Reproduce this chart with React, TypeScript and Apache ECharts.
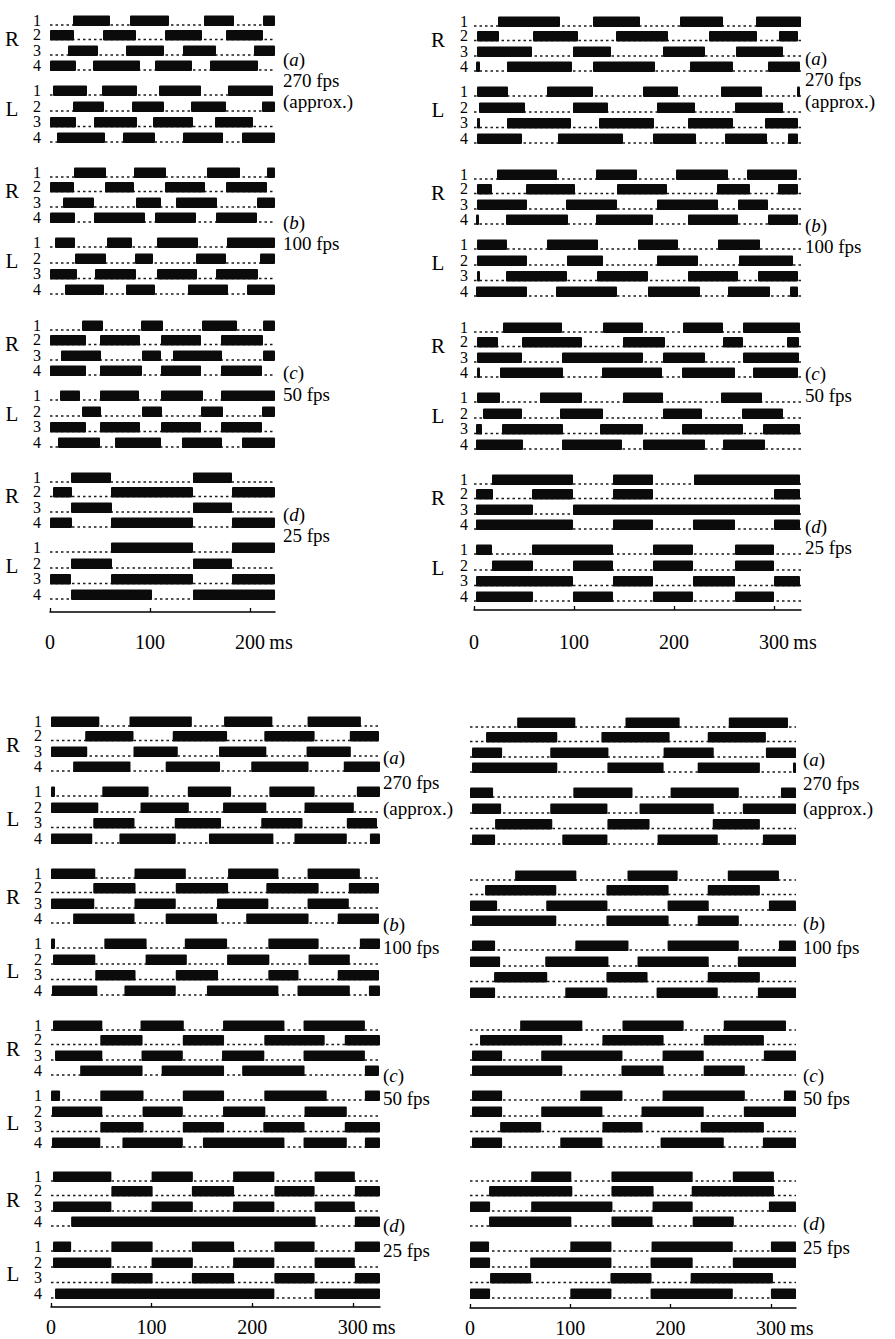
import React, { useEffect, useRef } from 'react';
import * as echarts from 'echarts';

// ---------- DATA: each row = [start, end, start, end, ...] in ms; rows R1..R4, L1..L4 ----------
const P1_A = [
  [23, 60, 80, 119, 154, 184, 213, 225],
  [0, 24, 53, 86, 115, 152, 176, 213],
  [18, 48, 76, 114, 133, 166, 204, 225],
  [0, 26, 43, 90, 105, 142, 160, 208],
  [3, 37, 52, 87, 109, 151, 178, 223],
  [23, 54, 82, 114, 141, 176, 212, 225],
  [0, 26, 44, 87, 103, 143, 165, 203],
  [7, 55, 73, 105, 133, 173, 192, 225],
];
const P1_B = [
  [24, 56, 84, 116, 157, 190, 217, 225],
  [0, 24, 55, 84, 115, 155, 176, 217],
  [13, 44, 86, 111, 126, 167, 207, 225],
  [0, 25, 44, 95, 105, 146, 166, 207],
  [5, 25, 57, 82, 107, 148, 177, 225],
  [25, 56, 85, 103, 146, 176, 210, 225],
  [0, 27, 45, 86, 107, 147, 166, 208],
  [15, 54, 76, 105, 138, 178, 197, 225],
];
const P1_C = [
  [32, 53, 91, 113, 152, 187, 213, 225],
  [0, 36, 50, 90, 111, 151, 171, 213],
  [11, 51, 92, 111, 123, 172, 213, 225],
  [0, 36, 50, 92, 111, 151, 171, 212],
  [10, 30, 50, 89, 111, 153, 171, 225],
  [32, 51, 92, 112, 151, 173, 212, 225],
  [0, 36, 50, 90, 111, 151, 171, 212],
  [8, 50, 65, 111, 132, 172, 192, 225],
];
const P1_D = [
  [21, 61, 143, 182],
  [3, 22, 61, 143, 182, 225],
  [21, 62, 143, 182],
  [0, 22, 61, 143, 182, 225],
  [61, 143, 182, 225],
  [21, 62, 143, 182],
  [0, 21, 61, 143, 182, 225],
  [21, 102, 143, 225],
];

const P2_A = [
  [24, 86, 119, 166, 206, 249, 282, 327],
  [3, 25, 59, 104, 142, 194, 235, 283, 305, 324],
  [3, 58, 99, 137, 189, 231, 262, 309],
  [2, 6, 33, 98, 119, 181, 216, 259, 294, 326],
  [3, 34, 73, 119, 169, 204, 247, 288, 323, 326],
  [5, 51, 99, 134, 183, 221, 261, 309],
  [3, 6, 33, 97, 125, 180, 214, 259, 291, 324],
  [3, 48, 84, 149, 179, 222, 251, 293, 314, 324],
];
const P2_B = [
  [23, 83, 122, 163, 202, 254, 273, 323],
  [3, 18, 52, 101, 143, 193, 243, 276, 304, 324],
  [3, 53, 92, 143, 183, 244, 264, 294],
  [2, 5, 32, 94, 122, 179, 214, 264, 294, 324],
  [3, 33, 73, 124, 164, 204, 244, 286],
  [3, 53, 93, 129, 183, 224, 265, 319],
  [3, 6, 32, 93, 123, 174, 214, 264, 284, 324],
  [2, 53, 82, 143, 174, 226, 254, 296, 316, 324],
];
const P2_C = [
  [29, 88, 129, 169, 209, 249, 269, 326],
  [3, 24, 48, 108, 149, 191, 249, 269, 313, 325],
  [3, 48, 88, 169, 189, 231, 269, 325],
  [3, 6, 26, 89, 128, 188, 208, 261, 279, 324],
  [3, 26, 66, 108, 149, 189, 247, 288],
  [9, 48, 86, 129, 189, 228, 268, 309],
  [2, 8, 28, 89, 126, 169, 208, 269, 289, 326],
  [2, 49, 88, 148, 169, 231, 249, 291],
];
const P2_D = [
  [18, 99, 139, 179, 220, 326],
  [2, 19, 58, 99, 139, 179, 300, 326],
  [2, 59, 99, 326],
  [2, 99, 139, 179, 219, 261, 300, 326],
  [2, 18, 58, 139, 179, 219, 261, 300],
  [18, 59, 99, 139, 179, 219, 261, 300],
  [2, 99, 139, 179, 219, 261, 300, 326],
  [2, 59, 99, 139, 179, 219, 261, 300],
];

const P3_A = [
  [0, 48, 78, 140, 172, 220, 255, 308],
  [34, 82, 121, 175, 212, 262, 297, 326],
  [0, 36, 82, 126, 167, 214, 254, 298],
  [22, 79, 114, 168, 199, 256, 291, 327],
  [0, 4, 51, 97, 136, 179, 217, 262, 304, 327],
  [0, 47, 89, 137, 171, 214, 252, 301],
  [42, 83, 123, 169, 209, 250, 294, 324],
  [0, 41, 68, 124, 157, 221, 242, 294, 317, 327],
];
const P3_B = [
  [0, 44, 83, 134, 176, 226, 255, 307],
  [42, 84, 124, 176, 214, 266, 296, 326],
  [0, 43, 83, 124, 165, 216, 255, 296],
  [22, 83, 114, 165, 194, 256, 285, 326],
  [0, 4, 53, 95, 133, 175, 216, 266, 307, 327],
  [2, 44, 94, 135, 175, 217, 256, 297],
  [44, 84, 124, 166, 216, 246, 285, 326],
  [1, 46, 73, 124, 155, 226, 245, 297, 316, 327],
];
const P3_C = [
  [2, 51, 89, 132, 171, 232, 251, 312],
  [49, 91, 131, 172, 212, 272, 292, 327],
  [4, 51, 90, 131, 170, 212, 251, 312],
  [29, 91, 110, 172, 190, 252, 312, 326],
  [0, 9, 49, 92, 131, 172, 212, 274, 312, 327],
  [1, 51, 91, 131, 171, 213, 252, 294],
  [49, 92, 131, 172, 211, 252, 292, 327],
  [1, 49, 71, 131, 151, 232, 251, 294, 312, 327],
];
const P3_D = [
  [2, 60, 100, 141, 181, 222, 262, 302],
  [60, 101, 140, 182, 222, 262, 302, 327],
  [2, 60, 100, 141, 181, 222, 262, 302],
  [20, 263, 302, 327],
  [2, 20, 60, 101, 140, 182, 222, 262, 302, 327],
  [2, 60, 100, 141, 181, 222, 262, 302],
  [60, 101, 140, 182, 222, 262, 302, 327],
  [4, 222, 262, 327],
];

const P4_A = [
  [47, 105, 155, 209, 258, 317],
  [16, 87, 131, 199, 237, 295],
  [2, 32, 80, 138, 193, 243, 295, 325],
  [2, 87, 137, 193, 227, 289, 322, 325],
  [0, 23, 103, 162, 200, 268, 310, 325],
  [2, 31, 80, 137, 169, 243, 272, 325],
  [25, 82, 137, 179, 242, 289],
  [2, 25, 92, 137, 187, 247, 292, 325],
];
const P4_B = [
  [45, 106, 157, 207, 257, 308],
  [15, 86, 136, 198, 237, 289],
  [0, 27, 76, 137, 197, 238, 298, 325],
  [2, 86, 136, 198, 227, 268],
  [2, 25, 105, 158, 197, 268, 308, 325],
  [0, 30, 75, 138, 167, 238, 267, 325],
  [24, 77, 136, 177, 237, 289],
  [0, 25, 95, 137, 186, 247, 287, 325],
];
const P4_C = [
  [50, 112, 152, 213, 253, 315],
  [10, 92, 132, 193, 233, 293],
  [2, 32, 71, 152, 192, 233, 293, 325],
  [2, 92, 151, 193, 233, 274],
  [2, 32, 110, 152, 192, 274, 313, 325],
  [2, 32, 71, 132, 171, 233, 273, 325],
  [30, 71, 132, 172, 230, 293],
  [2, 32, 90, 132, 190, 253, 292, 325],
];
const P4_D = [
  [61, 101, 141, 222, 262, 303],
  [19, 102, 141, 183, 221, 303],
  [0, 20, 61, 142, 182, 222, 298, 325],
  [19, 101, 141, 182, 222, 263],
  [0, 19, 100, 141, 181, 262, 300, 325],
  [0, 20, 60, 141, 180, 222, 262, 325],
  [20, 61, 140, 181, 220, 302],
  [0, 20, 100, 141, 180, 262, 300, 325],
];

const GROUP_LABELS = ['a', 'b', 'c', 'd'];
const FPS_LABELS = [['270 fps', '(approx.)'], ['100 fps'], ['50 fps'], ['25 fps']];
const ROW_NUMS = ['1', '2', '3', '4'];
const SIDES = ['R', 'L'];
const TICKS_SHORT = [0, 100, 200];
const TICKS_LONG = [0, 100, 200, 300];
const AXIS_UNIT = 'ms';

// ---------- LAYOUT ----------
const FONT = "'Liberation Serif', 'Times New Roman', serif";
const ROW_OFF = [0, 14.5, 30, 45, 70, 86, 101.5, 117];
const PANELS = [
  {
    groups: [P1_A, P1_B, P1_C, P1_D], xEnd: 225, left: 50, width: 225,
    groupY: [21, 173, 326, 478], axisY: 612, ticks: TICKS_SHORT, labelMargin: 20,
    sideX: 12, numX: 37, sideOff: [18, 88], rightX: 283,
    rightOff: [[38, 59, 80], [49, 70], [46, 68], [36, 57]],
  },
  {
    groups: [P2_A, P2_B, P2_C, P2_D], xEnd: 327, left: 474, width: 327,
    groupY: [22, 175, 328, 480], axisY: 610, ticks: TICKS_LONG, labelMargin: 22,
    sideX: 438, numX: 464, sideOff: [18, 88], rightX: 805,
    rightOff: [[36, 57, 79], [50, 71], [45, 67], [46, 67]],
  },
  {
    groups: [P3_A, P3_B, P3_C, P3_D], xEnd: 327, left: 51, width: 329,
    groupY: [722, 874, 1026, 1177], axisY: 1307, ticks: TICKS_LONG, labelMargin: 10,
    sideX: 13, numX: 38, sideOff: [23, 97], rightX: 383,
    rightOff: [[35, 60, 86], [50, 73], [49, 72], [48, 73]],
  },
  {
    groups: [P4_A, P4_B, P4_C, P4_D], xEnd: 325, left: 470, width: 326,
    groupY: [723, 876, 1026, 1177], axisY: 1308, ticks: TICKS_LONG, labelMargin: 10,
    sideX: null, numX: null, sideOff: [23, 97], rightX: 803,
    rightOff: [[36, 60, 85], [47, 71], [49, 72], [46, 70]],
  },
];

function renderBar(params: any, api: any) {
  const y = api.value(0);
  const a = api.coord([api.value(1), y]);
  const b = api.coord([api.value(2), y]);
  return {
    type: 'rect',
    shape: { x: a[0], y: a[1] - 5.5, width: Math.max(b[0] - a[0], 1), height: 10.5, r: 1 },
    style: { fill: '#0b0b0b' },
  };
}

function renderDots(params: any, api: any) {
  const y = api.value(0);
  const a = api.coord([api.value(1), y]);
  const b = api.coord([api.value(2), y]);
  return {
    type: 'line',
    shape: { x1: a[0], y1: a[1] + 4, x2: b[0], y2: b[1] + 4 },
    style: { stroke: '#1a1a1a', lineWidth: 1.5, lineDash: [2.5, 3] },
  };
}

function buildOption() {
  const grid: any[] = [];
  const xAxis: any[] = [];
  const yAxis: any[] = [];
  const series: any[] = [];
  const graphic: any[] = [];

  PANELS.forEach((P, pi) => {
    const top = P.groupY[0] - 15;
    const height = P.axisY - top;
    const last = P.ticks[P.ticks.length - 1];
    grid.push({ left: P.left, top, width: P.width, height });
    xAxis.push({
      gridIndex: pi, type: 'value', min: 0, max: P.xEnd, position: 'bottom',
      axisLine: { show: true, onZero: false, lineStyle: { color: '#000', width: 1.5 } },
      axisTick: { show: true, inside: true, length: 4, customValues: P.ticks, lineStyle: { color: '#000', width: 1.3 } },
      axisLabel: {
        show: true, customValues: P.ticks, margin: P.labelMargin, color: '#000',
        fontSize: 20, fontFamily: FONT,
        formatter: (v: number) => (v === last ? `{p|}${v}{u| ${AXIS_UNIT}}` : `${v}`),
        rich: {
          p: { width: 27, fontSize: 20, fontFamily: FONT },
          u: { width: 27, align: 'left', fontSize: 20, fontFamily: FONT, color: '#000' },
        },
      },
      splitLine: { show: false },
    });
    yAxis.push({ gridIndex: pi, type: 'value', min: 0, max: height, inverse: true, show: false });

    const bars: number[][] = [];
    const dots: number[][] = [];
    P.groups.forEach((rows, g) => {
      rows.forEach((segs, r) => {
        const y = P.groupY[g] + ROW_OFF[r] - top;
        dots.push([y, 0, P.xEnd]);
        for (let i = 0; i + 1 < segs.length; i += 2) bars.push([y, segs[i], segs[i + 1]]);
      });
    });
    series.push({
      type: 'custom', xAxisIndex: pi, yAxisIndex: pi, data: dots, renderItem: renderDots,
      encode: { x: [1, 2], y: 0 }, silent: true, z: 1,
    });
    series.push({
      type: 'custom', xAxisIndex: pi, yAxisIndex: pi, data: bars, renderItem: renderBar,
      encode: { x: [1, 2], y: 0 }, silent: true, z: 2,
    });

    P.groupY.forEach((gy, g) => {
      if (P.sideX !== null) {
        SIDES.forEach((s, si) => {
          graphic.push({
            type: 'text', x: P.sideX, y: gy + P.sideOff[si],
            style: { text: s, fontSize: 21, fontFamily: FONT, fill: '#000', align: 'center', verticalAlign: 'middle', textAlign: 'center', textVerticalAlign: 'middle' },
          });
        });
        ROW_OFF.forEach((off, r) => {
          graphic.push({
            type: 'text', x: P.numX, y: gy + off - 1,
            style: { text: ROW_NUMS[r % 4], fontSize: 16, lineHeight: 13, fontFamily: FONT, fill: '#000', align: 'center', verticalAlign: 'middle', textAlign: 'center', textVerticalAlign: 'middle' },
          });
        });
      }
      const lines = [`({i|${GROUP_LABELS[g]}})`, ...FPS_LABELS[g]];
      lines.forEach((t, k) => {
        graphic.push({
          type: 'text', x: P.rightX, y: gy + P.rightOff[g][k],
          style: {
            text: t, fontSize: 19, fontFamily: FONT, fill: '#000',
            align: 'left', verticalAlign: 'middle', textAlign: 'left', textVerticalAlign: 'middle',
            rich: { i: { fontStyle: 'italic', fontSize: 19, fontFamily: FONT, fill: '#000' } },
          },
        });
      });
    });
  });

  return {
    animation: false,
    backgroundColor: '#ffffff',
    grid, xAxis, yAxis, series, graphic,
  };
}

export default function App() {
  const ref = useRef<HTMLDivElement>(null);
  useEffect(() => {
    document.body.style.margin = '0';
    if (!ref.current) return;
    const chart = echarts.init(ref.current, undefined, { renderer: 'svg' });
    chart.setOption(buildOption() as any);
    return () => chart.dispose();
  }, []);
  return <div ref={ref} style={{ width: 895, height: 1339, background: '#fff' }} />;
}
